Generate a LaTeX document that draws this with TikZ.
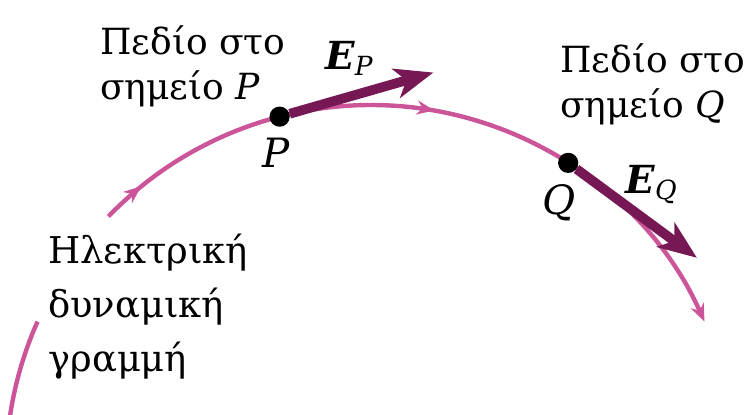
\documentclass[tikz,border=0pt]{standalone}
\usepackage{fontspec}
\setmainfont{DejaVu Serif}
\usetikzlibrary{arrows.meta,positioning,calc,backgrounds,decorations.markings}
\definecolor{fieldline}{RGB}{204,85,153}
\definecolor{fieldvec}{RGB}{118,24,84}

\begin{document}
\begin{tikzpicture}[
  x=0.02cm, y=0.02cm,
  line/.style={draw=fieldline, line width=2.5pt},
  linetip/.style={-{Stealth[length=10pt, width=8pt]}},
  midtips/.style={postaction={decorate}, decoration={markings,
    mark=at position 0.0625 with {\arrow{Stealth[length=10pt, width=8pt]}},
    mark=at position 0.5 with {\arrow{Stealth[length=10pt, width=8pt]}}}},
  vec/.style={draw=fieldvec, line width=5.5pt,
              -{Stealth[length=22pt, width=17pt, inset=6pt]}},
  dot/.style={circle, fill=black, inner sep=0pt, minimum size=11.5pt},
  lbl/.style={align=left, anchor=north west, inner sep=0pt,
              font=\fontsize{20.5}{25.6}\selectfont},
  ptlbl/.style={inner sep=0pt, font=\fontsize{23}{23}\selectfont\itshape},
  veclbl/.style={inner sep=0pt, font=\fontsize{22}{22}\selectfont}
]
\useasboundingbox (0,0) rectangle (751,414);

\coordinate (C) at (371,-56);
\def\rad{365}

\node[dot] (P) at ($(C)+(104.5:\rad)$) {};
\node[dot] (Q) at ($(C)+(57.3:\rad)$)  {};

\coordinate (EPend) at ($(P)+(16:160)$);
\coordinate (EQend) at ($(Q)+(-36.4:160)$);

% Field line and field vectors
\begin{scope}[on background layer]
  \draw[line] ($(C)+(174:\rad)$) arc[start angle=174, end angle=156, radius=\rad];
  \draw[line, linetip, midtips] ($(C)+(136:\rad)$) arc[start angle=136, end angle=24, radius=\rad];
  \draw[vec] (P) -- (EPend);
  \draw[vec] (Q) -- (EQend);
\end{scope}

% Labels
\node[ptlbl, below=6pt of P, xshift=-2pt] (Plbl) {P};
\node[ptlbl, below=6pt of Q, xshift=-5pt] (Qlbl) {Q};
\node[veclbl] (EPlbl) at (349,356)
  {\textbf{\textit{E}}\raisebox{-0.3ex}{\fontsize{15}{15}\selectfont\textit{P}}};
\node[veclbl] (EQlbl) at (651,229)
  {\textbf{\textit{E}}\raisebox{-0.3ex}{\fontsize{15}{15}\selectfont\textit{Q}}};

\node[lbl] (fieldP) at (100,389) {Πεδίο στο\\σημείο \textit{P}};
\node[lbl] (fieldQ) at (560,371) {Πεδίο στο\\σημείο \textit{Q}};
\node[lbl, font=\fontsize{21}{30.7}\selectfont] (linename) at (48,180)
  {Ηλεκτρική\\δυναμική\\γραμμή};

\end{tikzpicture}
\end{document}
